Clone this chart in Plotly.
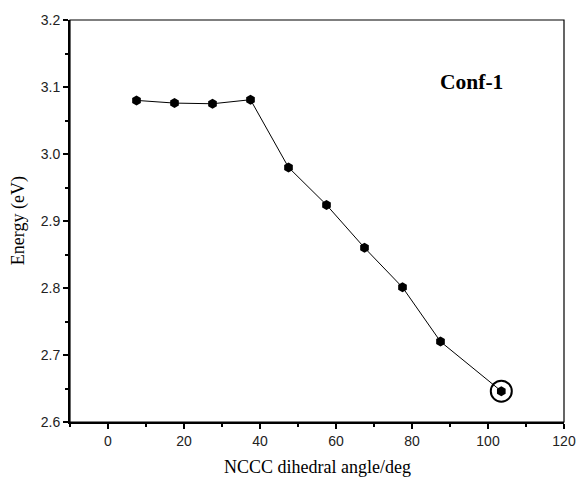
import plotly.graph_objects as go

angles = [7.5, 17.5, 27.5, 37.5, 47.5, 57.5, 67.5, 77.5, 87.5, 103.5]
energies = [3.080, 3.076, 3.075, 3.081, 2.980, 2.924, 2.860, 2.801, 2.720, 2.646]
highlight_x = [103.5]
highlight_y = [2.646]

fig = go.Figure()
fig.add_trace(go.Scatter(
    x=angles, y=energies, mode="lines+markers",
    line=dict(color="black", width=1),
    marker=dict(symbol="hexagon", size=10, color="black"),
    showlegend=False, cliponaxis=False))
fig.add_trace(go.Scatter(
    x=highlight_x, y=highlight_y, mode="markers",
    marker=dict(symbol="circle-open", size=21, color="black", line=dict(width=2, color="black")),
    showlegend=False, cliponaxis=False))

tickfont = dict(family="Liberation Sans, Arial", size=14, color="#222")
titlefont = dict(family="Liberation Serif, Times New Roman", size=18, color="black")
fig.update_xaxes(
    range=[-10, 120], tickvals=[0, 20, 40, 60, 80, 100, 120], automargin=False,
    showline=True, linewidth=2, linecolor="black", showgrid=False, zeroline=False,
    ticks="outside", ticklen=5, tickwidth=1.5, tickcolor="black", tickfont=tickfont,
    minor=dict(tickvals=[-10, 10, 30, 50, 70, 90, 110], ticks="outside", ticklen=3, tickwidth=1.5, tickcolor="black"))
fig.update_yaxes(
    range=[2.6, 3.2], tickvals=[2.6, 2.7, 2.8, 2.9, 3.0, 3.1, 3.2], tickformat=".1f", automargin=False,
    showline=True, linewidth=2, linecolor="black", showgrid=False, zeroline=False,
    ticks="outside", ticklen=5, tickwidth=1.5, tickcolor="black", tickfont=tickfont,
    minor=dict(tickvals=[2.65, 2.75, 2.85, 2.95, 3.05, 3.15], ticks="outside", ticklen=3, tickwidth=1.5, tickcolor="black"))

fig.add_shape(type="rect", xref="paper", yref="paper", x0=0, y0=0, x1=1, y1=1,
              line=dict(color="black", width=1.2), layer="above")
fig.add_annotation(x=0.5, y=-0.113, xref="paper", yref="paper", text="NCCC dihedral angle/deg",
                   showarrow=False, font=titlefont, xanchor="center", yanchor="middle")
fig.add_annotation(x=-0.105, y=0.5, xref="paper", yref="paper", text="Energy (eV)", textangle=-90,
                   showarrow=False, font=titlefont, xanchor="center", yanchor="middle")
fig.add_annotation(x=0.812, y=0.846, xref="paper", yref="paper", text="<b>Conf-1</b>",
                   showarrow=False, font=dict(family="Liberation Serif, Times New Roman", size=21.5, color="black"),
                   xanchor="center", yanchor="middle")

fig.update_layout(width=578, height=481, margin=dict(l=70, r=14, t=20, b=59),
                  plot_bgcolor="white", paper_bgcolor="white")
fig.write_html("out.html")
